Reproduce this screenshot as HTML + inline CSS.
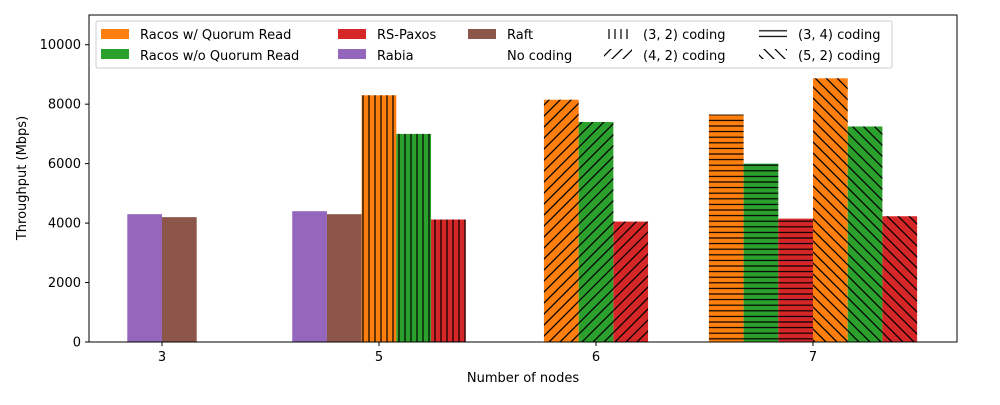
<!DOCTYPE html>
<html><head><meta charset="utf-8"><style>
body{margin:0;background:#fff}
svg text{font-family:"DejaVu Sans","Liberation Sans",sans-serif;font-size:13px;fill:#000}
</style></head><body>
<svg id="chart" width="1000" height="400">
<defs>
<pattern id="hv" width="6" height="6" patternUnits="userSpaceOnUse"><line x1="3" y1="0" x2="3" y2="6" stroke="#000" stroke-width="1.2"/></pattern>
<pattern id="hh" width="6" height="5.6" patternUnits="userSpaceOnUse"><line x1="0" y1="2.8" x2="6" y2="2.8" stroke="#000" stroke-width="1.2"/></pattern>
<pattern id="hf" width="11" height="11" patternUnits="userSpaceOnUse"><path d="M-2,2 L2,-2 M0,11 L11,0 M9,13 L13,9" stroke="#000" stroke-width="1.3"/></pattern>
<pattern id="hb" width="11" height="11" patternUnits="userSpaceOnUse"><path d="M-2,9 L2,13 M0,0 L11,11 M9,-2 L13,2" stroke="#000" stroke-width="1.3"/></pattern>
</defs>
<g id="bars"></g>
<rect x="89" y="15" width="868" height="327" fill="none" stroke="#000" stroke-width="1"/>
<g id="axes"></g>
<text x="26" y="178" text-anchor="middle" transform="rotate(-90 26 178)">Throughput (Mbps)</text>
<text x="523" y="382" text-anchor="middle">Number of nodes</text>
<g>
<rect x="96" y="21" width="796" height="47" fill="#fff" fill-opacity="0.8" stroke="#ccc" rx="2"/>
<rect x="101" y="29" width="28" height="10" fill="#ff7f0e"/><text x="140" y="39">Racos w/ Quorum Read</text>
<rect x="101" y="49" width="28" height="10" fill="#2ca02c"/><text x="140" y="60">Racos w/o Quorum Read</text>
<rect x="338" y="29" width="28" height="10" fill="#d62728"/><text x="377" y="39">RS-Paxos</text>
<rect x="338" y="49" width="28" height="10" fill="#9467bd"/><text x="377" y="60">Rabia</text>
<rect x="468" y="29" width="28" height="10" fill="#8c564b"/><text x="507" y="39">Raft</text>
<text x="507" y="60">No coding</text>
<rect x="604" y="29" width="28" height="10" fill="url(#hv)"/><text x="643" y="39">(3, 2) coding</text>
<rect x="604" y="49" width="28" height="10" fill="url(#hf)"/><text x="643" y="60">(4, 2) coding</text>
<rect x="759" y="29" width="28" height="10" fill="url(#hh)"/><text x="798" y="39">(3, 4) coding</text>
<rect x="759" y="49" width="28" height="10" fill="url(#hb)"/><text x="798" y="60">(5, 2) coding</text>
</g>
</svg>
<script>
const categories=["3","5","6","7"];
const barCat=[0,0,1,1,1,1,1,2,2,2,3,3,3,3,3,3];
const barSlot=[-1,0,-2.5,-1.5,-0.5,0.5,1.5,-1.5,-0.5,0.5,-3,-2,-1,0,1,2];
const barValues=[4300,4200,4400,4300,8300,7000,4120,8150,7400,4050,7650,6000,4150,8870,7250,4230];
const barSeries=["Rabia","Raft","Rabia","Raft","RacosQ","Racos","RSPaxos","RacosQ","Racos","RSPaxos","RacosQ","Racos","RSPaxos","RacosQ","Racos","RSPaxos"];
const barHatch=["","","","","hv","hv","hv","hf","hf","hf","hh","hh","hh","hb","hb","hb"];
const yTicks=[0,2000,4000,6000,8000,10000];
const colors={Rabia:"#9467bd",Raft:"#8c564b",RacosQ:"#ff7f0e",Racos:"#2ca02c",RSPaxos:"#d62728"};
const NS="http://www.w3.org/2000/svg";
const y=v=>342-v*327/11000;
const xc=i=>162+i*217;
const bw=34.7;
const gb=document.getElementById('bars'),ga=document.getElementById('axes');
barValues.forEach((v,i)=>{
 const x0=xc(barCat[i])+barSlot[i]*bw;
 const r=document.createElementNS(NS,'rect');
 r.setAttribute('x',x0);r.setAttribute('y',y(v));r.setAttribute('width',bw);r.setAttribute('height',342-y(v));
 r.setAttribute('fill',colors[barSeries[i]]);
 
 
 gb.appendChild(r);
 if(barHatch[i]){const h=document.createElementNS(NS,'rect');
 h.setAttribute('x',x0);h.setAttribute('y',y(v));h.setAttribute('width',bw);h.setAttribute('height',342-y(v));
 h.setAttribute('fill','url(#'+barHatch[i]+')');
 
 
 gb.appendChild(h);}
});
yTicks.forEach(t=>{
 const l=document.createElementNS(NS,'line');l.setAttribute('x1',85);l.setAttribute('x2',89);l.setAttribute('y1',y(t));l.setAttribute('y2',y(t));l.setAttribute('stroke','#000');ga.appendChild(l);
 const tx=document.createElementNS(NS,'text');tx.setAttribute('x',81);tx.setAttribute('y',y(t)+4.5);tx.setAttribute('text-anchor','end');tx.textContent=t;
 
 
 ga.appendChild(tx);
});
categories.forEach((c,i)=>{
 const l=document.createElementNS(NS,'line');l.setAttribute('x1',xc(i));l.setAttribute('x2',xc(i));l.setAttribute('y1',342);l.setAttribute('y2',346);l.setAttribute('stroke','#000');ga.appendChild(l);
 const tx=document.createElementNS(NS,'text');tx.setAttribute('x',xc(i));tx.setAttribute('y',361);tx.setAttribute('text-anchor','middle');tx.textContent=c;
 
 
 ga.appendChild(tx);
});
</script>
</body></html>
